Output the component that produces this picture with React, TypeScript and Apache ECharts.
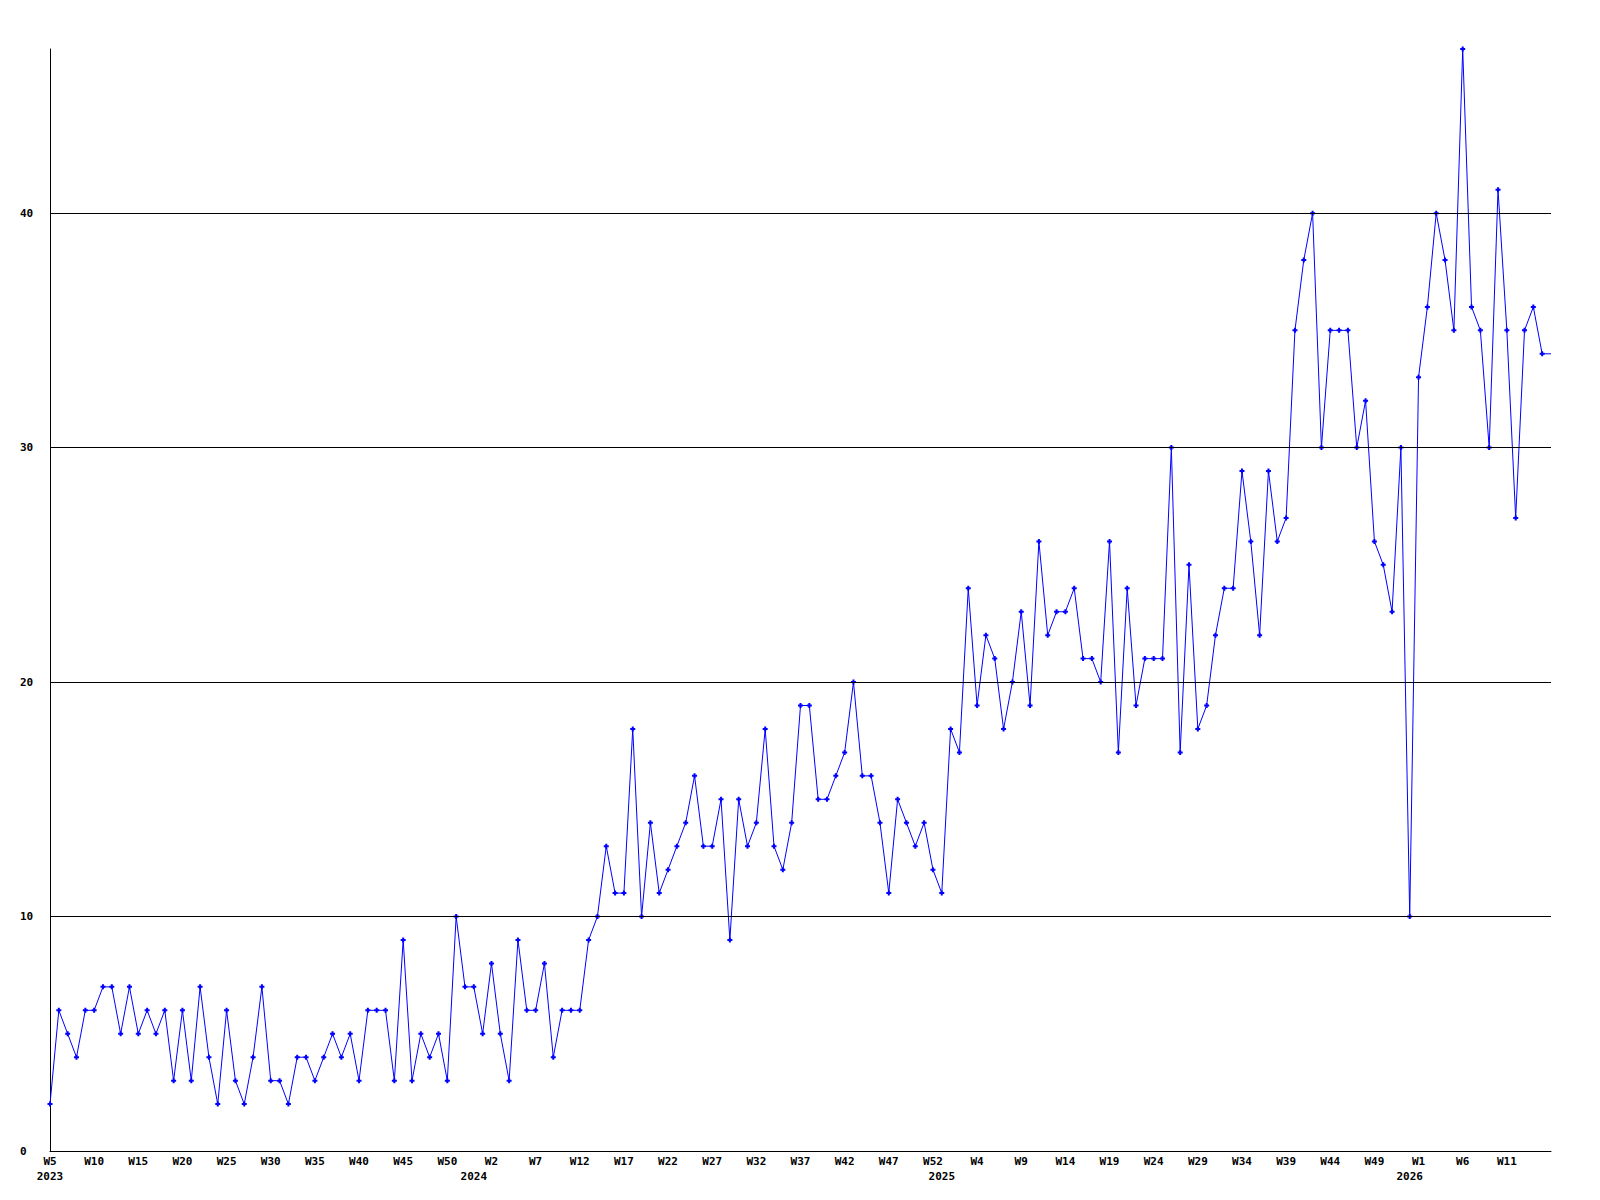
import React, { useEffect, useRef } from "react";
import * as echarts from "echarts";

// Weekly counts, 2023 W5 .. 2026 W15
const VALUES_2023: number[] = [
  2, 6, 5, 4, 6, 6, 7, 7, 5, 7, 5, 6, 5, 6, 3, 6, 3, 7, 4, 2, 6, 3, 2, 4, 7, 3, 3, 2, 4, 4, 3, 4,
  5, 4, 5, 3, 6, 6, 6, 3, 9, 3, 5, 4, 5, 3, 10, 7,
];
const VALUES_2024: number[] = [
  7, 5, 8, 5, 3, 9, 6, 6, 8, 4, 6, 6, 6, 9, 10, 13, 11, 11, 18, 10, 14, 11, 12, 13, 14, 16, 13, 13,
  15, 9, 15, 13, 14, 18, 13, 12, 14, 19, 19, 15, 15, 16, 17, 20, 16, 16, 14, 11, 15, 14, 13, 14, 12,
];
const VALUES_2025: number[] = [
  11, 18, 17, 24, 19, 22, 21, 18, 20, 23, 19, 26, 22, 23, 23, 24, 21, 21, 20, 26, 17, 24, 19, 21, 21,
  21, 30, 17, 25, 18, 19, 22, 24, 24, 29, 26, 22, 29, 26, 27, 35, 38, 40, 30, 35, 35, 35, 30, 32, 26,
  25, 23, 30,
];
const VALUES_2026: number[] = [10, 33, 36, 40, 38, 35, 47, 36, 35, 30, 41, 35, 27, 35, 36, 34];
// the line runs on to the right edge at the last value
const TAIL_VALUE = 34;

const YEARS = [2023, 2024, 2025, 2026];
const FIRST_WEEK = [5, 0, 0, 0];
const LAST_WEEK = [52, 52, 52, 16];

const Y_TICKS = [10, 20, 30, 40];
const Y_MAX = 47;

export default function App() {
  const ref = useRef<HTMLDivElement>(null);

  useEffect(() => {
    document.body.style.margin = "0";
    if (!ref.current) return;
    const chart = echarts.init(ref.current, undefined, { renderer: "svg" });

    const cats: string[] = [];
    const yearStart = new Set<number>();
    YEARS.forEach((y, i) => {
      yearStart.add(cats.length);
      for (let w = FIRST_WEEK[i]; w <= LAST_WEEK[i]; w++) cats.push(`${y}-W${w}`);
    });

    const values = [...VALUES_2023, ...VALUES_2024, ...VALUES_2025, ...VALUES_2026];
    const data: any[] = values.map((v) => v);
    data.push({ value: TAIL_VALUE, symbol: "none" });

    const font = { fontFamily: "DejaVu Sans Mono", fontWeight: "bold" as const, fontSize: 11, color: "#000" };

    chart.setOption({
      animation: false,
      backgroundColor: "#fff",
      grid: { left: 50, right: 49, top: 49, bottom: 49, containLabel: false },
      xAxis: {
        type: "category",
        data: cats,
        boundaryGap: false,
        axisLine: { show: true, lineStyle: { color: "#000", width: 1 } },
        axisTick: { show: false },
        splitLine: { show: false },
        axisLabel: {
          ...font,
          interval: 0,
          margin: 3,
          lineHeight: 15,
          showMinLabel: true,
          showMaxLabel: true,
          formatter: (val: string, idx: number) => {
            if (idx === cats.length - 1) return "";
            const [y, w] = val.split("-W");
            const top = idx % 5 === 0 ? "W" + w : "";
            if (yearStart.has(idx)) return top + "\n" + y;
            return top;
          },
        },
      },
      yAxis: {
        type: "value",
        min: 0,
        max: Y_MAX,
        interval: 10,
        axisLine: { show: true, lineStyle: { color: "#000", width: 1 } },
        axisTick: { show: false },
        splitLine: { show: false },
        axisLabel: {
          ...font,
          align: "left",
          margin: 30,
          showMaxLabel: false,
          formatter: (v: number) => (v === Y_MAX ? "" : String(v)),
        },
      },
      series: [
        {
          type: "line",
          data,
          symbol: "path://M1.5,0H3.5V1.5H5V3.5H3.5V5H1.5V3.5H0V1.5H1.5Z",
          symbolSize: 5,
          showAllSymbol: true,
          lineStyle: { color: "#0000ff", width: 1 },
          itemStyle: { color: "#0000ff", borderWidth: 0 },
          emphasis: { disabled: true },
          markLine: {
            silent: true,
            symbol: ["none", "none"],
            label: { show: false },
            lineStyle: { color: "#000", width: 1, type: "solid" },
            emphasis: { disabled: true },
            data: Y_TICKS.map((t) => ({ yAxis: t })),
          },
        },
      ],
    });

    return () => chart.dispose();
  }, []);

  return <div ref={ref} style={{ width: 1600, height: 1200 }} />;
}
